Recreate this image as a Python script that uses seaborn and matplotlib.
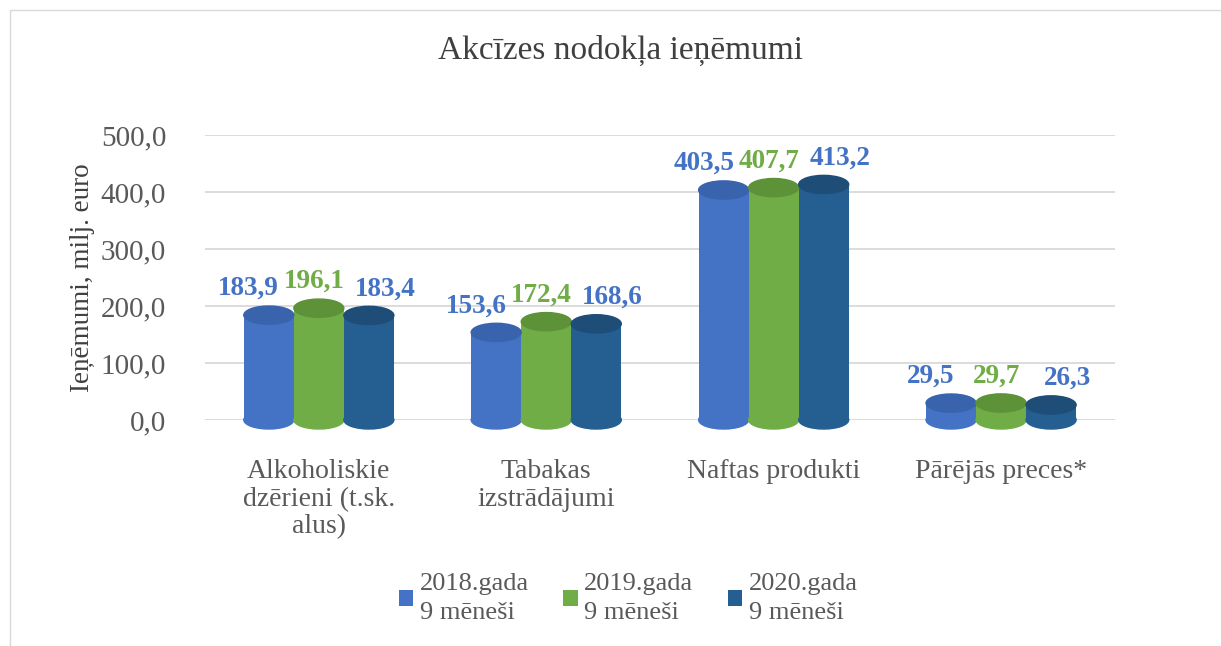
import pandas as pd
import matplotlib.pyplot as plt
import seaborn as sns
from matplotlib.patches import Ellipse, Rectangle

# Data
categories = ["Alkoholiskie\ndzērieni (t.sk.\nalus)", "Tabakas\nizstrādājumi",
              "Naftas produkti", "Pārējās preces*"]
series = ["2018.gada\n9 mēneši", "2019.gada\n9 mēneši", "2020.gada\n9 mēneši"]
v2018 = [183.9, 153.6, 403.5, 29.5]
v2019 = [196.1, 172.4, 407.7, 29.7]
v2020 = [183.4, 168.6, 413.2, 26.3]
yticks = [0, 100, 200, 300, 400, 500]

colors = ["#4472C4", "#70AD47", "#255E91"]
tops = ["#3A63AD", "#5E9238", "#1E4D78"]
label_colors = ["#4472C4", "#70AD47", "#4472C4"]
label_shift = [-20, -5, 16]  # pixels, labels spread like in the 3D original

rows = []
for s, vals in zip(series, [v2018, v2019, v2020]):
    for c, v in zip(categories, vals):
        rows.append({"Kategorija": c, "Periods": s, "Vertiba": v})
data = pd.DataFrame(rows)

sns.set_style("white")
plt.rcParams["font.family"] = ["Liberation Serif", "DejaVu Serif"]

fig = plt.figure(figsize=(12.21, 6.46), dpi=100)
ax = fig.add_axes([0.168, 0.35, 0.745, 0.441])

sns.barplot(data=data, x="Kategorija", y="Vertiba", hue="Periods",
            palette=colors, saturation=1, width=0.66, linewidth=0,
            ax=ax, legend=True)

ax.set_ylim(0, 500)
ax.set_yticks(yticks)
ax.set_yticklabels([f"{t:.1f}".replace(".", ",") for t in yticks],
                   fontsize=21, color="#595959")
ax.tick_params(axis="x", labelsize=20, colors="#595959", length=0, pad=28)
ax.tick_params(axis="y", length=0, pad=28)
for t in ax.get_xticklabels():
    t.set_linespacing(1.15)
ax.set_xlabel("")
ax.set_ylabel("Ieņēmumi, milj. euro", fontsize=19.5, color="#404040", labelpad=4)
ax.yaxis.grid(True, color="#D9D9D9", linewidth=1.3)
ax.set_axisbelow(True)
sns.despine(ax=ax, left=True, bottom=True)

# cylinder look + value labels
ell_h = 32
for i, cont in enumerate(ax.containers):
    for p in cont.patches:
        x = p.get_x() + p.get_width() / 2
        h = p.get_height()
        w = p.get_width()
        ax.add_patch(Ellipse((x, 0), w, ell_h, color=colors[i], clip_on=False, zorder=2))
        ax.add_patch(Ellipse((x, h), w, ell_h, color=tops[i], clip_on=False, zorder=3))
        ax.annotate(f"{h:.1f}".replace(".", ","), (x, h), xytext=(label_shift[i], 14),
                    textcoords="offset pixels", ha="center", va="bottom",
                    fontsize=19.5, fontweight="bold", color=label_colors[i])

handles, labels = ax.get_legend_handles_labels()
leg = ax.legend(handles, labels, loc="upper center", bbox_to_anchor=(0.465, -0.455),
                ncol=3, frameon=False, fontsize=19, labelcolor="#595959",
                handlelength=0.55, handleheight=0.55, handletextpad=0.25,
                columnspacing=1.3)
for t in leg.get_texts():
    t.set_linespacing(1.4)

fig.text(0.508, 0.922, "Akcīzes nodokļa ieņēmumi", ha="center", va="center",
         fontsize=24, color="#404040")

fig.patches.append(Rectangle((0.008, -0.01), 1.0, 0.995, transform=fig.transFigure,
                             fill=False, edgecolor="#D9D9D9", linewidth=1))

fig.savefig("out.png", dpi=100)
